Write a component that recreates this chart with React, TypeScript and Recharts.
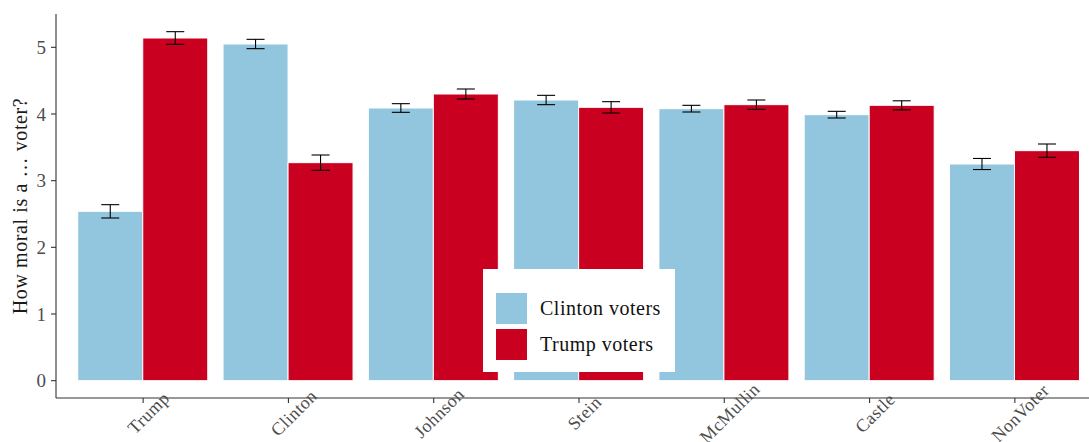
import React from 'react';
import { BarChart, Bar, XAxis, YAxis, ErrorBar, Legend } from 'recharts';

// Candidates being rated
const categories = ['Trump', 'Clinton', 'Johnson', 'Stein', 'McMullin', 'Castle', 'NonVoter'];
// Mean morality rating given by each voter group
const clintonVoters = [2.54, 5.05, 4.09, 4.21, 4.08, 3.99, 3.25];
const trumpVoters = [5.14, 3.27, 4.30, 4.10, 4.14, 4.13, 3.45];
// Standard errors
const clintonErr = [0.1, 0.07, 0.065, 0.07, 0.05, 0.05, 0.083];
const trumpErr = [0.095, 0.115, 0.075, 0.085, 0.07, 0.068, 0.1];
const yTicks = [0, 1, 2, 3, 4, 5];

const BLUE = '#92C5DE';
const RED = '#CA0020';
const FONT = '"Liberation Serif", "DejaVu Serif", serif';

const data = categories.map((c, i) => ({
  name: c,
  cv: clintonVoters[i],
  tv: trumpVoters[i],
  cvErr: clintonErr[i],
  tvErr: trumpErr[i],
}));

const XTick = (props: any) => {
  const { x, y, payload } = props;
  return (
    <text
      x={0}
      y={0}
      textAnchor="middle"
      dominantBaseline="central"
      fill="#4d4d4d"
      fontSize={18}
      letterSpacing={0.4}
      fontFamily={FONT}
      transform={`translate(${x + 5.5},${y + 8}) rotate(-45)`}
    >
      {payload.value}
    </text>
  );
};

const YLabel = (props: any) => {
  const vb = props.viewBox || { x: 0, y: 14, width: 56, height: 384 };
  const cx = 20;
  const cy = vb.y + vb.height / 2;
  return (
    <text
      x={cx}
      y={cy}
      textAnchor="middle"
      dominantBaseline="central"
      fill="#1a1a1a"
      fontSize={20}
      letterSpacing={0.6}
      fontFamily={FONT}
      transform={`rotate(-90, ${cx}, ${cy})`}
    >
      How moral is a … voter?
    </text>
  );
};

const renderLegend = (props: any) => {
  const items = props.payload || [];
  return (
    <div
      style={{
        background: '#fff',
        width: 192,
        height: 103,
        boxSizing: 'border-box',
        paddingTop: 24,
        paddingLeft: 13,
        fontFamily: FONT,
      }}
    >
      {items.map((it: any, i: number) => (
        <div
          key={i}
          style={{ display: 'flex', alignItems: 'center', height: 31, marginBottom: 5 }}
        >
          <div style={{ width: 31, height: 31, background: it.color }} />
          <span style={{ marginLeft: 13, fontSize: 20, color: '#111', letterSpacing: 0.5 }}>
            {it.value}
          </span>
        </div>
      ))}
    </div>
  );
};

export default function App() {
  return (
    <div
      style={{
        position: 'absolute',
        left: 0,
        top: 0,
        width: 1089,
        height: 442,
        overflow: 'hidden',
        background: '#fff',
      }}
    >
      <BarChart
        width={1102}
        height={442}
        data={data}
        margin={{ top: 14, right: 0, bottom: 0, left: 0 }}
        barCategoryGap="5%"
        barGap={0}
      >
        <XAxis
          dataKey="name"
          height={44}
          padding={{ left: 14.5, right: 14.5 }}
          axisLine={{ stroke: '#333', strokeWidth: 1.1 }}
          tickLine={{ stroke: '#333', strokeWidth: 1.1 }}
          tickSize={5}
          tick={<XTick />}
          interval={0}
        />
        <YAxis
          type="number"
          domain={[-0.26, 5.5]}
          ticks={yTicks}
          allowDataOverflow
          width={56}
          axisLine={{ stroke: '#333', strokeWidth: 1.1 }}
          tickLine={{ stroke: '#333', strokeWidth: 1.1 }}
          tickSize={5}
          tickMargin={5}
          tick={{ fill: '#4d4d4d', fontSize: 19, fontFamily: FONT }}
          label={<YLabel />}
        />
        <Legend
          layout="vertical"
          align="center"
          verticalAlign="middle"
          content={renderLegend}
          wrapperStyle={{ left: 483, top: 269, width: 192, height: 103 }}
        />
        <Bar dataKey="cv" name="Clinton voters" fill={BLUE} stroke="#fff" strokeWidth={1} isAnimationActive={false}>
          <ErrorBar dataKey="cvErr" width={9} stroke="#000" strokeWidth={1.1} direction="y" isAnimationActive={false} />
        </Bar>
        <Bar dataKey="tv" name="Trump voters" fill={RED} stroke="#fff" strokeWidth={1} isAnimationActive={false}>
          <ErrorBar dataKey="tvErr" width={9} stroke="#000" strokeWidth={1.1} direction="y" isAnimationActive={false} />
        </Bar>
      </BarChart>
    </div>
  );
}
